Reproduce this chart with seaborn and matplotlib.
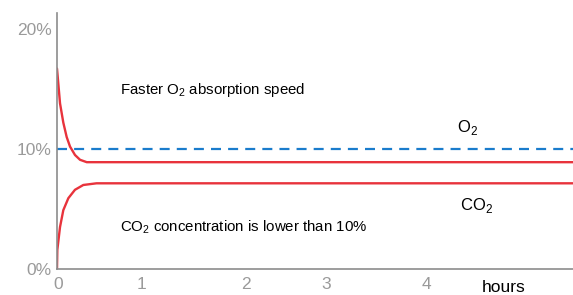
import matplotlib
matplotlib.use("Agg")
import matplotlib.pyplot as plt
import seaborn as sns
import pandas as pd

sns.set_theme(style="white")
plt.rcParams['font.family'] = ['Liberation Sans', 'DejaVu Sans']
plt.rcParams['mathtext.fontset'] = 'custom'
plt.rcParams['mathtext.rm'] = 'Liberation Sans'

# O2 concentration curve (x in chart units, y in %)
o2_x = [0.0, 0.036, 0.075, 0.115, 0.155, 0.214, 0.274, 0.354, 6.2]
o2_y = [16.7, 13.8, 12.2, 11.0, 10.2, 9.5, 9.1, 8.9, 8.9]
# CO2 concentration curve
co2_x = [0.0, 0.004, 0.036, 0.075, 0.135, 0.214, 0.313, 0.47, 6.2]
co2_y = [0.0, 1.6, 3.5, 4.9, 5.9, 6.6, 7.0, 7.14, 7.14]
# reference level
ref_level = 10.0

tick_pos = [0.01, 1.01, 2.25, 3.2, 4.4]
tick_labels = ["0", "1", "2", "3", "4"]
ytick_vals = [0, 10, 20]
ytick_labels = ["0%", "10%", "20%"]

fig = plt.figure(figsize=(5.73, 2.95), dpi=100)
ax = fig.add_axes([57/573, 26/295, 1 - 57/573, (269-13)/295])

red = "#e8333c"
blue = "#1a7ccc"
df_o2 = pd.DataFrame({"x": o2_x, "y": o2_y})
df_co2 = pd.DataFrame({"x": co2_x, "y": co2_y})
sns.lineplot(data=df_o2, x="x", y="y", ax=ax, color=red, lw=1.7, sort=False)
sns.lineplot(data=df_co2, x="x", y="y", ax=ax, color=red, lw=1.7, sort=False)
ax.axhline(ref_level, color=blue, lw=1.6, ls=(0, (4.5, 3.2)))

ax.set_xlim(0, 6.14)
ax.set_ylim(0, 21.33)
ax.set_xlabel("")
ax.set_ylabel("")

for s in ["top", "right"]:
    ax.spines[s].set_visible(False)
for s in ["left", "bottom"]:
    ax.spines[s].set_color("#8c8c8c")
    ax.spines[s].set_linewidth(1.2)

ax.set_xticks(tick_pos)
ax.set_xticklabels(tick_labels)
ax.set_yticks(ytick_vals)
ax.set_yticklabels(ytick_labels)
ax.tick_params(axis="both", length=0, colors="#9a9a9a", labelsize=12.5)
ax.tick_params(axis="x", pad=6, labelsize=12.5)
ax.tick_params(axis="y", pad=4)

ax.text(0.75, 14.9, r"Faster O$_2$ absorption speed", fontsize=10.8, color="black", va="center", ha="left")
ax.text(0.75, 3.5, r"CO$_2$ concentration is lower than 10%", fontsize=10.8, color="black", va="center", ha="left")
ax.text(4.88, 11.75, r"O$_2$", fontsize=12, color="black", va="center", ha="center")
ax.text(4.99, 5.3, r"CO$_2$", fontsize=12, color="black", va="center", ha="center")
ax.text(5.32, -1.5, "hours", fontsize=12.5, color="black", va="center", ha="center", clip_on=False)

fig.savefig("out.png", dpi=100)
